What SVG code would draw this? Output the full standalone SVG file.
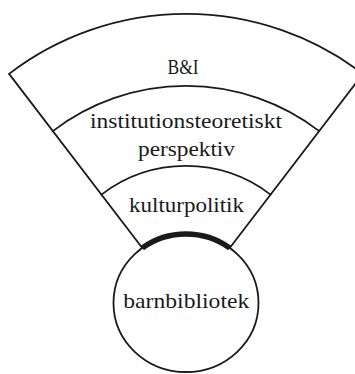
<svg xmlns="http://www.w3.org/2000/svg" width="355" height="374" viewBox="0 0 355 374">
<style>
.ln{fill:none;stroke:#1a1a1a;stroke-width:1.8;stroke-linecap:round}
.thick{fill:none;stroke:#1a1a1a;stroke-width:5.5}
.t{font-family:"Liberation Serif","Times New Roman",serif;font-size:22px;fill:#1a1a1a;text-anchor:middle}
</style>
<rect width="355" height="374" fill="#ffffff"/>
<g id="frame">
<path class="ln" d="M142.3,248 L9.1,73.9"/>
<path class="ln" d="M229.7,248 L362.9,73.9"/>
</g>
<g id="band-bi">
<path class="ln" d="M9.1,73.9 A291,291 0 0,1 362.9,73.9"/>
<text class="t" x="183" y="74" font-size="19" textLength="31" lengthAdjust="spacingAndGlyphs">B&amp;I</text>
</g>
<g id="band-institution">
<path class="ln" d="M52.8,131.1 A219,219 0 0,1 319.2,131.1"/>
<text class="t" x="186" y="128" textLength="192" lengthAdjust="spacingAndGlyphs">institutionsteoretiskt</text>
<text class="t" x="186.5" y="156" textLength="97" lengthAdjust="spacingAndGlyphs">perspektiv</text>
</g>
<g id="band-kulturpolitik">
<path class="ln" d="M101.5,194.6 A139,139 0 0,1 270.5,194.6"/>
<text class="t" x="186.5" y="211.5" textLength="115" lengthAdjust="spacingAndGlyphs">kulturpolitik</text>
</g>
<g id="barnbibliotek">
<ellipse class="ln" cx="186" cy="303" rx="72.5" ry="69"/>
<path class="thick" d="M142.3,248 A72.5,69 0 0,1 229.7,248"/>
<text class="t" x="186.3" y="308.3" textLength="126" lengthAdjust="spacingAndGlyphs">barnbibliotek</text>
</g>
</svg>
